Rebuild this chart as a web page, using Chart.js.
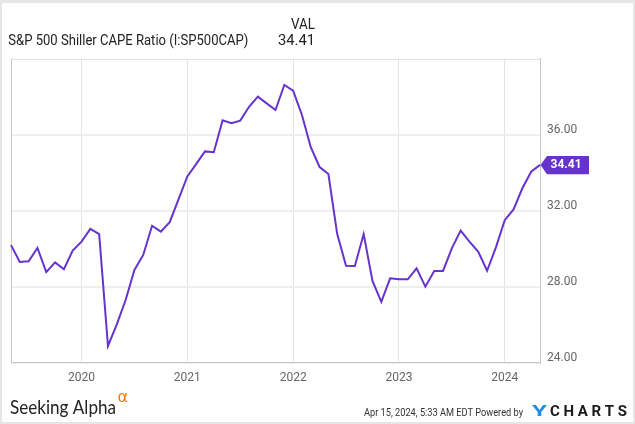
<!DOCTYPE html>
<html>
<head>
<meta charset="utf-8">
<script src="https://cdn.jsdelivr.net/npm/chart.js@4.4.1/dist/chart.umd.min.js"></script>
<style>
html,body{margin:0;padding:0;background:#fff;}
#wrap{position:relative;width:635px;height:424px;overflow:hidden;background:#fff;}
#frame{position:absolute;left:0;top:0;width:635px;height:424px;box-sizing:border-box;border-style:solid;border-color:#e6e6e6;border-width:3px 2px 2px 2px;pointer-events:none;}
canvas{position:absolute;left:0;top:0;}
</style>
</head>
<body>
<div id="wrap">
<canvas id="c" width="635" height="424"></canvas>
<div id="frame"></div>
</div>
<script>
// ---- Data ----
const seriesName = 'S&P 500 Shiller CAPE Ratio (I:SP500CAP)';
const months = [
  '2019-05','2019-06','2019-07','2019-08','2019-09','2019-10','2019-11','2019-12',
  '2020-01','2020-02','2020-03','2020-04','2020-05','2020-06','2020-07','2020-08','2020-09','2020-10','2020-11','2020-12',
  '2021-01','2021-02','2021-03','2021-04','2021-05','2021-06','2021-07','2021-08','2021-09','2021-10','2021-11','2021-12',
  '2022-01','2022-02','2022-03','2022-04','2022-05','2022-06','2022-07','2022-08','2022-09','2022-10','2022-11','2022-12',
  '2023-01','2023-02','2023-03','2023-04','2023-05','2023-06','2023-07','2023-08','2023-09','2023-10','2023-11','2023-12',
  '2024-01','2024-02','2024-03','2024-04','2024-05'
];
const capeValues = [
  30.19, 29.30, 29.34, 30.04, 28.77, 29.28, 28.92, 29.90,
  30.37, 31.04, 30.77, 24.88, 26.02, 27.30, 28.88, 29.67, 31.21, 30.90, 31.40, 32.60,
  33.80, 34.45, 35.12, 35.08, 36.76, 36.60, 36.74, 37.47, 38.00, 37.65, 37.30, 38.62,
  38.32, 37.04, 35.34, 34.30, 33.93, 30.77, 29.10, 29.09, 30.77, 28.30, 27.20, 28.44,
  28.39, 28.39, 28.97, 28.00, 28.83, 28.83, 30.02, 30.95, 30.37, 29.84, 28.84, 30.07,
  31.50, 32.07, 33.18, 34.05, 34.41
];
const yTickValues = [24, 28, 32, 36];
const yMin = 24, yMax = 40;
const timestampText = 'Apr 15, 2024, 5:33 AM EDT Powered by';

// ---- Style ----
const PURPLE = '#6633cc';
const lastValue = capeValues[capeValues.length - 1];

function fitText(ctx, text, x, y, targetW, font, color, align) {
  ctx.save();
  ctx.font = font;
  const w = ctx.measureText(text).width;
  const s = targetW / w;
  ctx.translate(x, y);
  ctx.scale(s, 1);
  ctx.fillStyle = color;
  ctx.textBaseline = 'alphabetic';
  ctx.textAlign = 'left';
  ctx.fillText(text, align === 'right' ? -w : 0, 0);
  ctx.restore();
}

const decorPlugin = {
  id: 'decor',
  beforeDatasetsDraw(chart) {
    const ctx = chart.ctx, a = chart.chartArea;
    ctx.save();
    ctx.strokeStyle = '#e2e2e2';
    ctx.lineWidth = 1;
    ctx.beginPath();
    ctx.moveTo(a.left, Math.round(a.top) + 0.5);
    ctx.lineTo(a.right, Math.round(a.top) + 0.5);
    ctx.stroke();
    ctx.strokeStyle = '#c8c8c8';
    ctx.beginPath();
    ctx.moveTo(Math.round(a.left) + 0.5, a.top);
    ctx.lineTo(Math.round(a.left) + 0.5, a.bottom);
    ctx.stroke();
    ctx.restore();
  },
  afterDatasetsDraw(chart) {
    const ctx = chart.ctx;
    const meta = chart.getDatasetMeta(0);
    const p = meta.data[meta.data.length - 1];
    const tx = p.x + 0.5, ty = p.y;
    ctx.save();
    ctx.fillStyle = PURPLE;
    ctx.beginPath();
    ctx.moveTo(tx, ty);
    ctx.lineTo(tx + 6.5, ty - 9);
    ctx.lineTo(tx + 48.5, ty - 9);
    ctx.lineTo(tx + 48.5, ty + 9.3);
    ctx.lineTo(tx + 6.5, ty + 9.3);
    ctx.closePath();
    ctx.fill();
    ctx.fillStyle = '#fff';
    ctx.font = 'bold 12px Roboto';
    ctx.textBaseline = 'middle';
    ctx.textAlign = 'left';
    ctx.fillText(lastValue.toFixed(2), tx + 10, ty + 0.5);
    ctx.restore();
  },
  afterDraw(chart) {
    const ctx = chart.ctx;
    // header
    fitText(ctx, seriesName, 8.3, 45, 240, '15px Roboto', '#222');
    fitText(ctx, 'VAL', 315, 29.3, 24, '15px Roboto', '#222', 'right');
    fitText(ctx, lastValue.toFixed(2), 315, 45, 37, '15px Roboto', '#222', 'right');
    // footer
    fitText(ctx, 'Seeking Alpha', 10, 414, 106, '20px Lato', '#222');
    ctx.save();
    ctx.fillStyle = '#f57c00';
    ctx.font = '16px "DejaVu Sans"';
    ctx.textBaseline = 'alphabetic';
    ctx.fillText('\u03B1', 117.5, 402);
    ctx.restore();
    fitText(ctx, timestampText, 364, 415.7, 159, '11px Roboto', '#333');
    fitText(ctx, 'Y', 532, 416.3, 15, 'bold 15px Roboto', '#1f8ee6');
    // CHARTS with letter spacing
    ctx.save();
    ctx.font = 'bold 15px Roboto';
    ctx.fillStyle = '#1a1a1a';
    ctx.textBaseline = 'alphabetic';
    const word = 'CHARTS';
    const widths = [...word].map(ch => ctx.measureText(ch).width);
    const natural = widths.reduce((s, w) => s + w, 0);
    const gap = (627 - 550 - natural) / (word.length - 1);
    let x = 550;
    [...word].forEach((ch, i) => { ctx.fillText(ch, x, 416.3); x += widths[i] + gap; });
    ctx.restore();
  }
};

new Chart(document.getElementById('c'), {
  type: 'line',
  data: {
    labels: months,
    datasets: [{
      label: seriesName,
      data: capeValues,
      borderColor: PURPLE,
      borderWidth: 2,
      pointRadius: 0,
      pointHoverRadius: 0,
      tension: 0,
      fill: false,
      clip: false
    }]
  },
  options: {
    responsive: false,
    animation: false,
    devicePixelRatio: 1,
    layout: { padding: { left: 11, top: 58.7, right: 0, bottom: 0 } },
    plugins: { legend: { display: false }, tooltip: { enabled: false }, title: { display: false } },
    scales: {
      x: {
        type: 'category',
        offset: false,
        afterBuildTicks(scale) {
          scale.ticks = scale.ticks.filter(t => months[t.value].endsWith('-01'));
        },
        afterFit(scale) { scale.height = 61.3; },
        grid: { color: '#e3e3e3', lineWidth: 1, drawTicks: false },
        border: { display: true, color: '#c8c8c8', width: 1 },
        ticks: {
          autoSkip: false,
          maxRotation: 0,
          padding: 8,
          color: '#666',
          font: { family: 'Roboto', size: 12 },
          callback(value) { return months[value].slice(0, 4); }
        }
      },
      y: {
        position: 'right',
        min: yMin,
        max: yMax,
        afterBuildTicks(scale) {
          scale.ticks = yTickValues.map(v => ({ value: v }));
        },
        afterFit(scale) { scale.width = 95; },
        grid: { color: '#eeeeee', lineWidth: 2, drawTicks: false },
        border: { display: true, color: '#c8c8c8', width: 1 },
        ticks: {
          padding: 7,
          labelOffset: -5,
          color: '#666',
          font: { family: 'Roboto', size: 12 },
          callback(value) { return Number(value).toFixed(2); }
        }
      }
    }
  },
  plugins: [decorPlugin]
});
</script>
</body>
</html>
